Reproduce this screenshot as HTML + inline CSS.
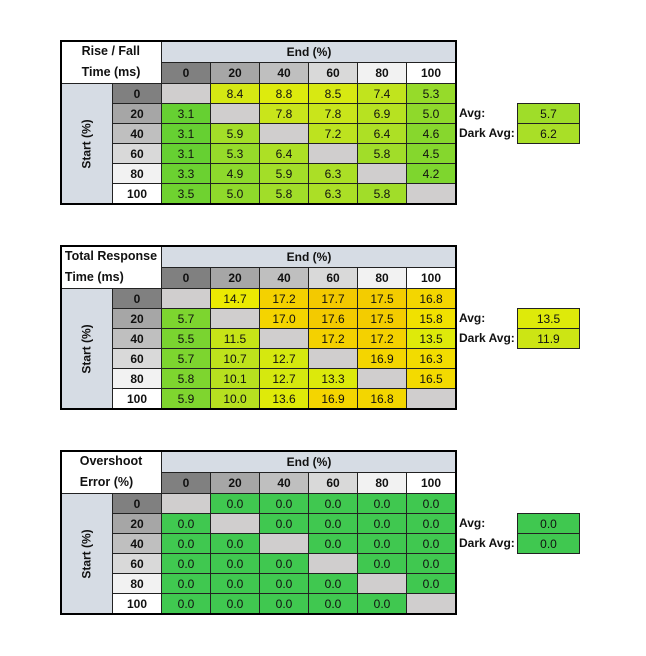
<!DOCTYPE html>
<html><head><meta charset="utf-8"><style>
body{margin:0;width:646px;height:656px;background:#fff;position:relative;overflow:hidden;font-family:"Liberation Sans",sans-serif;font-size:12px;color:#111}
.c{position:absolute;box-sizing:border-box;border:1px solid #222;display:flex;align-items:center;justify-content:center}
.b{font-weight:bold}
.frame{position:absolute;border:2px solid #000;box-sizing:border-box;pointer-events:none}
.lbl{position:absolute;font-weight:bold;}
</style></head><body>
<script>
const cols=["0","20","40","60","80","100"];
const rf=[[null,8.4,8.8,8.5,7.4,5.3],[3.1,null,7.8,7.8,6.9,5.0],[3.1,5.9,null,7.2,6.4,4.6],[3.1,5.3,6.4,null,5.8,4.5],[3.3,4.9,5.9,6.3,null,4.2],[3.5,5.0,5.8,6.3,5.8,null]];
const tr=[[null,14.7,17.2,17.7,17.5,16.8],[5.7,null,17.0,17.6,17.5,15.8],[5.5,11.5,null,17.2,17.2,13.5],[5.7,10.7,12.7,null,16.9,16.3],[5.8,10.1,12.7,13.3,null,16.5],[5.9,10.0,13.6,16.9,16.8,null]];
const os=[[null,0,0,0,0,0],[0,null,0,0,0,0],[0,0,null,0,0,0],[0,0,0,null,0,0],[0,0,0,0,null,0],[0,0,0,0,0,null]];
const avgs=[[5.7,6.2],[13.5,11.9],[0.0,0.0]];
const titles=[["Rise / Fall","Time (ms)"],["Total Response","Time (ms)"],["Overshoot","Error (%)"]];
const hdr=["#808080","#a6a6a6","#bfbfbf","#d9d9d9","#f2f2f2","#ffffff"];
const stopsRF=[[3,[100,208,50]],[6,[165,222,40]],[8,[205,230,25]],[9,[225,236,10]]];
const stopsTR=[[5.5,[122,212,48]],[10,[182,224,32]],[13.5,[222,234,10]],[15,[238,234,0]],[17,[244,212,0]],[18,[242,196,0]]];
const stopsOS=[[0,[64,200,80]],[1,[64,200,80]]];
function col(v,s){if(v<=s[0][0])return s[0][1];for(let i=1;i<s.length;i++){if(v<=s[i][0]){const t=(v-s[i-1][0])/(s[i][0]-s[i-1][0]);return s[i-1][1].map((a,k)=>Math.round(a+(s[i][1][k]-a)*t));}}return s[s.length-1][1];}
const xs=[60,112,161,210,259,308,357,406,456];
function cell(x,y,w,h,txt,bg,bold,name){const d=document.createElement('div');d.className='c'+(bold?' b':'');d.style.cssText=`left:${x}px;top:${y}px;width:${w+1}px;height:${h+1}px;background:${bg}`;d.textContent=txt;


document.body.appendChild(d);return d;}
[[rf,stopsRF,40],[tr,stopsTR,245],[os,stopsOS,450]].forEach(([data,st,top],ti)=>{
 const t=cell(60,top,101,43,'', '#fff',true,'table-title');t.style.flexDirection='column';t.style.fontSize='12.5px';t.innerHTML=titles[ti][0]+'<br>'+titles[ti][1];t.style.lineHeight='21px';
 cell(161,top,295,22,'End (%)','#d6dce4',true,'end-header');
 const s=cell(60,top+43,52,120,'','#d6dce4',true,'start-axis-label');s.innerHTML='<span style="transform:rotate(-90deg);white-space:nowrap">Start (%)</span>';
 cols.forEach((c,i)=>{cell(xs[i+2],top+22,49,21,c,hdr[i],true,'end-col-'+c);cell(112,top+43+i*20,49,20,c,hdr[i],true,'start-row-'+c);});
 data.forEach((row,r)=>row.forEach((v,c)=>{const bg=v===null?'#d0cece':`rgb(${col(v,st)})`;cell(xs[c+2],top+43+r*20,49,20,v===null?'':v.toFixed(1),bg,false,'cell-'+cols[r]+'-'+cols[c]);}));
 const f=document.createElement('div');f.className='frame';f.style.cssText=`left:60px;top:${top}px;width:397px;height:165px`;
 
 
 document.body.appendChild(f);
 ['Avg:','Dark Avg:'].forEach((l,k)=>{const y=top+63+k*20;const L=document.createElement('div');L.className='lbl';L.style.cssText=`left:459px;top:${y+3}px`;L.textContent=l;
 
 
 document.body.appendChild(L);
 const v=avgs[ti][k];cell(517,y,62,20,v.toFixed(1),`rgb(${col(v,st)})`,false,k?'dark-avg-value':'avg-value');});
});
</script>
</body></html>
